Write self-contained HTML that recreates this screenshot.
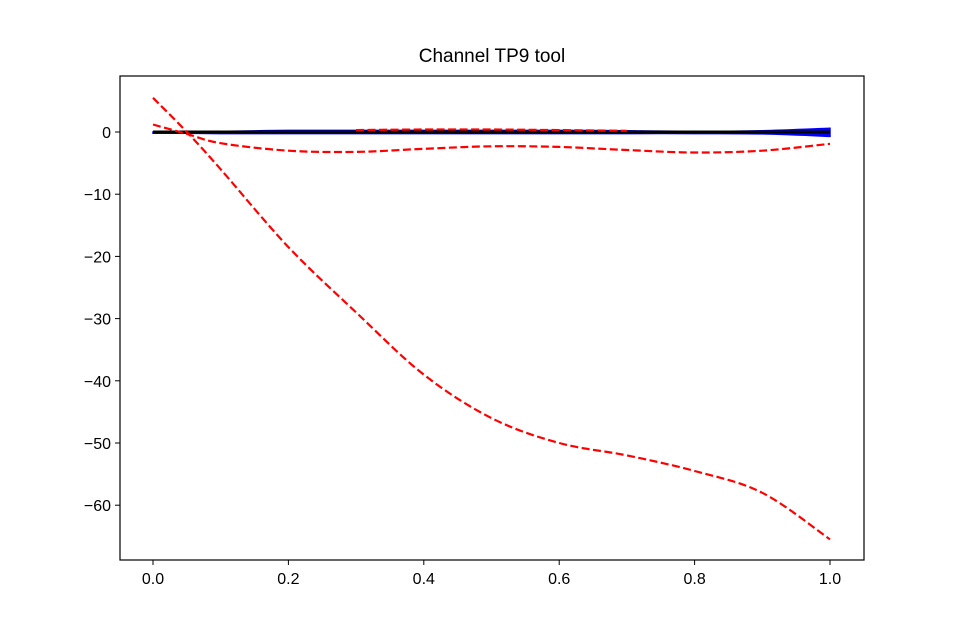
<!DOCTYPE html>
<html><head><meta charset="utf-8"><style>body{margin:0;background:#fff}svg{display:block;font-family:"Liberation Sans","DejaVu Sans",sans-serif}</style></head>
<body>
<svg id="chart" width="960" height="640">
<text x="492" y="62" font-size="19" text-anchor="middle">Channel TP9 tool</text>
<g id="plot"></g>
<rect x="120" y="76" width="744" height="484" fill="none" stroke="#000" stroke-width="1.2"/>
<g id="axes"></g>
</svg>
<script>
const xs = [0,0.05,0.1,0.2,0.3,0.4,0.5,0.6,0.7,0.8,0.9,1.0];
const redBig = [5.5,0,-6,-18.5,-29,-39,-46,-50,-52,-54.5,-58,-65.5];
const redSmall = [1.2,-0.3,-1.8,-3,-3.2,-2.7,-2.3,-2.4,-2.9,-3.3,-3.0,-1.9];
const redFlat = [null,null,null,null,0.3,0.4,0.4,0.3,0.2,null,null,null];
const blueUpper = [0,0,0.1,0.25,0.25,0.25,0.25,0.25,0.2,0.1,0.2,0.6];
const blueLower = [-0.2,-0.2,-0.25,-0.25,-0.25,-0.25,-0.25,-0.25,-0.25,-0.25,-0.3,-0.7];
const blackLine = [0,0,0,0,0,0,0,0,0,0,0,0];
const xTicks = [0,0.2,0.4,0.6,0.8,1.0];
const xTickLabels = ["0.0","0.2","0.4","0.6","0.8","1.0"];
const yTicks = [0,-10,-20,-30,-40,-50,-60];
const yTickLabels = ["0","\u221210","\u221220","\u221230","\u221240","\u221250","\u221260"];

const X = v => 153 + v*677;
const Y = v => 132 - v*6.22;
const NS = "http://www.w3.org/2000/svg";
const plot = document.getElementById('plot'), axes = document.getElementById('axes');
function mk(t, a, p){const e=document.createElementNS(NS,t);for(const k in a)e.setAttribute(k,a[k]);p.appendChild(e);return e;}
function smooth(pts){
  if(pts.length<2) return "";
  let d="M"+pts[0][0].toFixed(1)+","+pts[0][1].toFixed(1);
  for(let i=0;i<pts.length-1;i++){
    const p0=pts[Math.max(i-1,0)],p1=pts[i],p2=pts[i+1],p3=pts[Math.min(i+2,pts.length-1)];
    const c1=[p1[0]+(p2[0]-p0[0])/6,p1[1]+(p2[1]-p0[1])/6];
    const c2=[p2[0]-(p3[0]-p1[0])/6,p2[1]-(p3[1]-p1[1])/6];
    d+="C"+c1.map(v=>v.toFixed(1)).join(",")+" "+c2.map(v=>v.toFixed(1)).join(",")+" "+p2[0].toFixed(1)+","+p2[1].toFixed(1);
  }
  return d;
}
function ptsOf(ys){const a=[];ys.forEach((y,i)=>{if(y!==null)a.push([X(xs[i]),Y(y)]);});return a;}
// blue band
const up = ptsOf(blueUpper), lo = ptsOf(blueLower).reverse();
const bd = smooth(up) + smooth(lo).replace(/^M/,"L") + "Z";
const band = mk('path',{d:bd,fill:"#0000ff",stroke:"#0000ff","stroke-width":1.5},plot);


const blk = mk('path',{d:smooth(ptsOf(blackLine)),fill:"none",stroke:"#000","stroke-width":3},plot);


[[redBig,'red-dashed-large'],[redSmall,'red-dashed-small'],[redFlat,'red-dashed-flat']].forEach(([s,n])=>{
  const p = mk('path',{d:smooth(ptsOf(s)),fill:"none",stroke:"#ff0000","stroke-width":2.2,"stroke-dasharray":"8,3.5"},plot);
  
  
});
xTicks.forEach((v,i)=>{
  mk('line',{x1:X(v),x2:X(v),y1:560,y2:565,stroke:"#000"},axes);
  const t = mk('text',{x:X(v),y:584,"font-size":16,"text-anchor":"middle"},axes);
  t.textContent = xTickLabels[i];
  
  
});
yTicks.forEach((v,i)=>{
  mk('line',{x1:115,x2:120,y1:Y(v),y2:Y(v),stroke:"#000"},axes);
  const t = mk('text',{x:111,y:Y(v)+6,"font-size":16,"text-anchor":"end"},axes);
  t.textContent = yTickLabels[i];
  
  
});
</script>
</body></html>
